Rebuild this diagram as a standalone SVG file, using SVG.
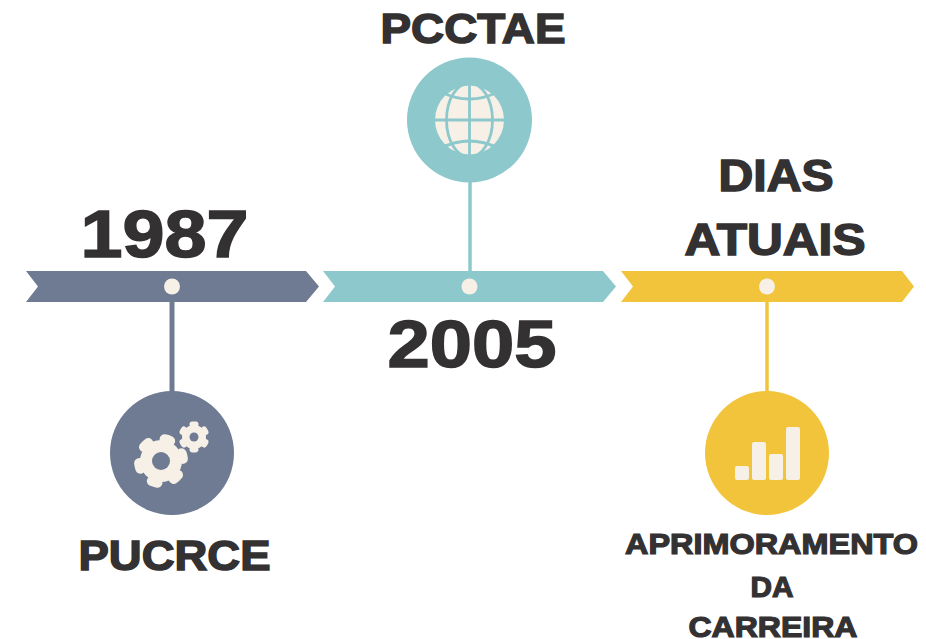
<svg xmlns="http://www.w3.org/2000/svg" width="926" height="639" viewBox="0 0 926 639">
<style>
.t{font-family:"Liberation Sans",Arial,sans-serif;font-weight:700;fill:#333132;stroke:#333132;stroke-width:1.5}
.s{stroke-width:1.2}
.slate{fill:#6e7b92}.teal{fill:#8dc8cc}.gold{fill:#f2c43c}
.cream{fill:#f6f0e7}
.c{fill:none;stroke-width:3.5}
.m{fill:none;stroke:#8dc8cc;stroke-width:2.8}
</style>
<rect width="926" height="639" fill="#fff"/>
<g id="connectors">
<line class="c" x1="172" y1="300" x2="172" y2="393" stroke="#6e7b92" style="stroke-width:5"/>
<line class="c" x1="470" y1="180" x2="470" y2="273" stroke="#8dc8cc"/>
<line class="c" x1="767" y1="300" x2="767" y2="393" stroke="#f2c43c"/>
</g>
<g id="node-1987">
<polygon class="slate" points="26,271 306,271 319,286.5 306,302 26,302 38,286.5"/>
<circle class="cream" cx="172" cy="286.5" r="8"/>
<circle class="slate" cx="172" cy="453" r="62"/>
<circle class="cream" cx="161" cy="461" r="21"/>
<circle cx="161" cy="461" r="22" fill="none" stroke="#f6f0e7" stroke-width="10" stroke-linecap="round" pathLength="60" stroke-dasharray="2.6 7.4" stroke-dashoffset="1.3" transform="rotate(-13 161 461)"/>
<circle class="slate" cx="161" cy="461" r="9"/>
<circle class="cream" cx="194" cy="437" r="12"/>
<circle cx="194" cy="437" r="12.5" fill="none" stroke="#f6f0e7" stroke-width="6" stroke-linecap="round" pathLength="60" stroke-dasharray="2.3 7.700" stroke-dashoffset="1.15" transform="rotate(30 194 437)"/>
<circle class="slate" cx="194" cy="437" r="4.500"/>
<text class="t" x="80.500" y="256.500" font-size="67" textLength="168" lengthAdjust="spacingAndGlyphs">1987</text>
<text class="t" x="78.500" y="569.500" font-size="43" textLength="192" lengthAdjust="spacingAndGlyphs">PUCRCE</text>
</g>
<g id="node-2005">
<polygon class="teal" points="323,271 603,271 616,286.5 603,302 323,302 335,286.500"/>
<circle class="cream" cx="469.500" cy="286.500" r="8"/>
<circle class="teal" cx="469.500" cy="120" r="62.500"/>
<circle class="cream" cx="469.500" cy="120" r="34.500"/>
<ellipse class="m" cx="469.500" cy="120" rx="23" ry="37"/>
<line class="m" x1="469.500" y1="84" x2="469.500" y2="156"/>
<line class="m" x1="434" y1="120" x2="505" y2="120"/>
<path class="m" d="M441 92Q469.500 106 498 92M441 148Q469.500 134 498 148"/>
<text class="t" x="472" y="366.500" font-size="67" text-anchor="middle" textLength="169" lengthAdjust="spacingAndGlyphs">2005</text>
<text class="t" x="473" y="42.500" font-size="43" text-anchor="middle" textLength="185" lengthAdjust="spacingAndGlyphs">PCCTAE</text>
</g>
<g id="node-atuais">
<polygon class="gold" points="621,271 902,271 914,286.500 902,302 621,302 633,286.500"/>
<circle class="cream" cx="767" cy="286.500" r="8"/>
<circle class="gold" cx="767" cy="453" r="62"/>
<rect class="cream" x="735" y="466" width="14" height="14" rx="2"/>
<rect class="cream" x="752" y="442" width="14" height="38" rx="2"/>
<rect class="cream" x="769" y="454" width="14" height="26" rx="2"/>
<rect class="cream" x="786" y="427" width="14" height="53" rx="2"/>
<text class="t" x="776" y="190.500" font-size="44" text-anchor="middle" textLength="115" lengthAdjust="spacingAndGlyphs">DIAS</text>
<text class="t" x="775" y="254.500" font-size="44" text-anchor="middle" textLength="181" lengthAdjust="spacingAndGlyphs">ATUAIS</text>
<text class="t s" x="771.500" y="554" font-size="29" text-anchor="middle" textLength="293" lengthAdjust="spacingAndGlyphs">APRIMORAMENTO</text>
<text class="t s" x="772" y="597" font-size="29" text-anchor="middle" textLength="43" lengthAdjust="spacingAndGlyphs">DA</text>
<text class="t s" x="773" y="636.500" font-size="29" text-anchor="middle" textLength="169" lengthAdjust="spacingAndGlyphs">CARREIRA</text>
</g>
</svg>
